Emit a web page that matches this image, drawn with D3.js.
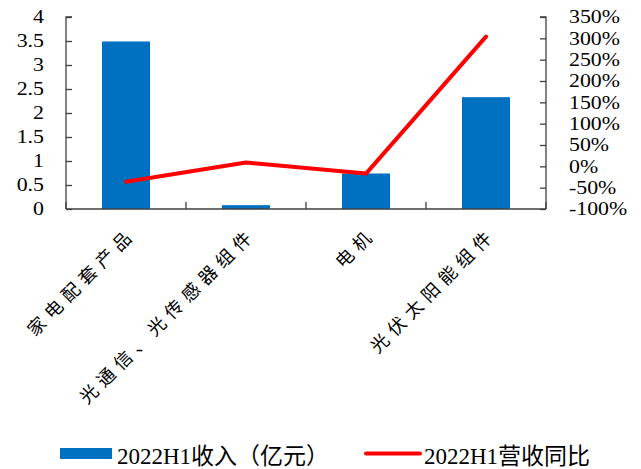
<!DOCTYPE html>
<html>
<head>
<meta charset="utf-8">
<script src="https://cdn.jsdelivr.net/npm/d3@7"></script>
<style>
  html, body { margin: 0; padding: 0; background: #fff; }
  svg { display: block; }
</style>
</head>
<body>
<svg id="chart" width="641" height="469"></svg>
<script>
const categories = ["家电配套产品", "光通信、光传感器组件", "电机", "光伏太阳能组件"];
const revenue = [3.49, 0.08, 0.74, 2.33];          // 2022H1收入（亿元）
const yoy = [-36, 9, -17, 304];                      // 2022H1营收同比 (%)
const leftTicks = [0, 0.5, 1, 1.5, 2, 2.5, 3, 3.5, 4];
const rightTicks = [-100, -50, 0, 50, 100, 150, 200, 250, 300, 350];
const seriesNames = ["2022H1收入（亿元）", "2022H1营收同比"];

const svg = d3.select("#chart");
const L = 66, R = 546, T = 17, B = 209;
const axisColor = "#404040";
const barColor = "#0070C0";
const lineColor = "#FF0000";
const latin = "'Times New Roman','Liberation Serif',serif";
const mixed = "'Times New Roman','Liberation Serif','Noto Sans CJK SC',serif";
const tickFont = 19, stretch = 1.15;

const slot = d3.scaleBand().domain(categories).range([L, R]).padding(0);
const x = d3.scaleBand().domain(categories).range([L, R]).paddingInner(0.6).paddingOuter(0.3);
const yL = d3.scaleLinear().domain([0, 4]).range([B, T]);
const yR = d3.scaleLinear().domain([-100, 350]).range([B, T]);

// bars
svg.append("g").selectAll("rect").data(categories).join("rect")
  .attr("x", d => x(d))
  .attr("width", x.bandwidth())
  .attr("y", (d, i) => yL(revenue[i]))
  .attr("height", (d, i) => yL(0) - yL(revenue[i]))
  .attr("fill", barColor);

// left axis
const gL = svg.append("g").attr("transform", `translate(${L},0)`)
  .call(d3.axisRight(yL).tickValues(leftTicks).tickSize(6).tickFormat(""));
gL.select(".domain").attr("d", `M6,${T}H0V${B}`);
gL.selectAll("line,path").attr("stroke", axisColor).attr("stroke-width", 1.3);
svg.append("g").selectAll("text").data(leftTicks).join("text")
  .attr("transform", d => `translate(44,${yL(d)}) scale(${stretch},1)`)
  .attr("text-anchor", "end").attr("dominant-baseline", "central")
  .attr("font-family", latin).attr("font-size", tickFont).attr("fill", "#000")
  .text(d => d3.format("")(d));

// right axis
const gR = svg.append("g").attr("transform", `translate(${R},0)`)
  .call(d3.axisLeft(yR).tickValues(rightTicks).tickSize(6).tickFormat(""));
gR.select(".domain").attr("d", `M-6,${T}H0V${B}`);
gR.selectAll("line,path").attr("stroke", axisColor).attr("stroke-width", 1.3);
svg.append("g").selectAll("text").data(rightTicks).join("text")
  .attr("transform", d => `translate(569,${yR(d)}) scale(${stretch},1)`)
  .attr("text-anchor", "start").attr("dominant-baseline", "central")
  .attr("font-family", latin).attr("font-size", tickFont).attr("fill", "#000")
  .text(d => d + "%");

// x axis
const boundaries = categories.map(c => slot(c)).concat([R]);
const gX = svg.append("g").attr("transform", `translate(0,${B})`)
  .call(d3.axisBottom(slot).tickSize(0).tickFormat(""));
gX.select(".domain").attr("d", `M${L},0H${R}`).attr("stroke", axisColor).attr("stroke-width", 1.6);
gX.selectAll(".tick").remove();
gX.selectAll("line.b").data(boundaries).join("line").attr("class", "b")
  .attr("x1", d => d).attr("x2", d => d).attr("y1", 0).attr("y2", -7)
  .attr("stroke", axisColor).attr("stroke-width", 1.3);

// category labels
svg.append("g").selectAll("text").data(categories).join("text")
  .attr("transform", d => `translate(${slot(d) + slot.bandwidth() / 2 + 1},234) rotate(-45)`)
  .attr("text-anchor", "end").attr("dominant-baseline", "central")
  .attr("dx", 6)
  .attr("letter-spacing", 6)
  .attr("font-family", "'Noto Sans CJK SC',sans-serif").attr("font-size", 18)
  .attr("fill", "#000")
  .text(d => d);

// line
const line = d3.line()
  .x((d, i) => x(categories[i]) + x.bandwidth() / 2)
  .y(d => yR(d));
svg.append("path").datum(yoy)
  .attr("d", line).attr("fill", "none")
  .attr("stroke", lineColor).attr("stroke-width", 4)
  .attr("stroke-linejoin", "round").attr("stroke-linecap", "round");

// legend
const lg = svg.append("g");
lg.append("rect").attr("x", 60).attr("y", 448).attr("width", 52).attr("height", 11).attr("fill", barColor);
lg.append("text").attr("x", 117).attr("y", 456)
  .attr("dominant-baseline", "central")
  .attr("font-family", mixed).attr("font-size", 23).attr("fill", "#000")
  .text(seriesNames[0]);
lg.append("line").attr("x1", 366).attr("x2", 420).attr("y1", 453.5).attr("y2", 453.5)
  .attr("stroke", lineColor).attr("stroke-width", 4).attr("stroke-linecap", "round");
lg.append("text").attr("x", 424).attr("y", 456)
  .attr("dominant-baseline", "central")
  .attr("font-family", mixed).attr("font-size", 23).attr("fill", "#000")
  .text(seriesNames[1]);
</script>
</body>
</html>
